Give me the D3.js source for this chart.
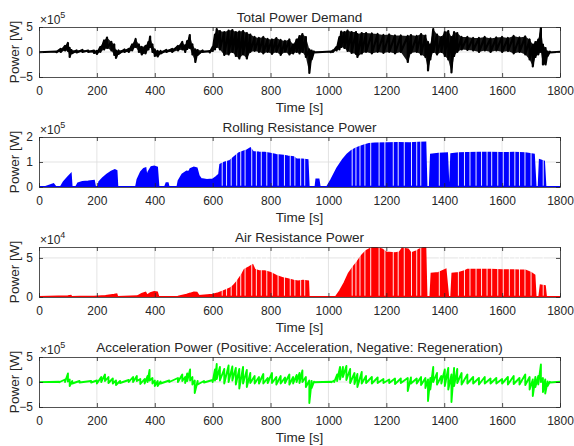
<!DOCTYPE html>
<html>
<head>
<meta charset="utf-8">
<script src="https://cdn.jsdelivr.net/npm/d3@7"></script>
<style>
  body { margin: 0; background: #fff; }
  text { font-family: "Liberation Sans", Arial, sans-serif; fill: #262626; }
  .axis path, .axis line { stroke: #262626; stroke-width: 0.8; }
  .grid line { stroke: #dcdcdc; stroke-width: 0.8; }
</style>
</head>
<body>
<svg id="chart" width="574" height="446"></svg>
<script>
// x axis, seconds
var timeTicks = [0, 200, 400, 600, 800, 1000, 1200, 1400, 1600, 1800];

// total power demand, envelope [t, high, low] in 1e5 W
var totalPower = [
  [0, 0.05, -0.05], [60, 0.1, -0.05], [75, 0.6, 0], [90, 1.2, 0.3], [100, 1.8, 0.2],
  [106, 0.8, -1.0], [112, 0.4, -0.3], [130, 0.3, -0.1], [150, 0.4, 0], [170, 0.3, 0],
  [190, 0.3, -0.2], [200, 0.2, -0.4], [212, 1.0, 0], [225, 2.3, 0.5], [235, 2.9, 0.8],
  [250, 2.0, 0.3], [260, 1.5, -0.6], [266, 0.3, -1.2], [275, 0.3, -0.4], [295, 0.5, 0],
  [310, 0.6, 0], [322, 1.5, 0.3], [334, 2.6, 1.0], [345, 1.5, 0], [355, 1.0, -0.5],
  [368, 1.2, -0.3], [378, 2.0, 0.5], [384, 3.1, 1.0], [392, 1.5, 0], [400, 0.5, -0.8],
  [410, 0.2, -0.9], [420, 0.2, -0.3], [440, 0.4, 0], [460, 0.6, 0], [480, 1.2, 0.3],
  [495, 2.0, 0.5], [505, 1.3, 0], [512, 2.2, 0.6], [521, 3.4, 0.8], [530, 1.5, -0.5],
  [540, 0.5, -2.0], [548, 0.4, -0.6], [565, 0.3, 0], [590, 0.2, -0.1], [600, 1.0, 0.2],
  [608, 3.5, 0.5], [614, 4.6, 1.0], [625, 4.2, 0.5], [640, 4.0, -0.6], [655, 4.3, -0.5],
  [668, 4.4, 0], [680, 4.0, -0.8], [692, 4.1, -1.3], [705, 4.2, -0.5], [718, 3.8, -1.3],
  [730, 3.5, 0], [745, 3.0, 0.2], [760, 2.8, 0], [775, 3.0, -0.3], [790, 2.6, 0],
  [805, 2.5, -0.4], [820, 2.8, 0], [835, 2.4, -0.6], [850, 2.2, 0], [865, 2.5, -0.5],
  [878, 1.5, -0.3], [890, 2.5, 0], [900, 3.2, -0.3], [910, 3.6, 0], [922, 3.0, -1.0],
  [934, 0.5, -4.2], [942, 0.3, -1.5], [950, 0.1, -0.1], [1008, 0.1, -0.05], [1015, 0.3, 0],
  [1028, 1.0, 0.3], [1038, 3.0, 0.5], [1044, 4.1, 1.0], [1055, 4.0, 0.8], [1066, 4.3, 0.2],
  [1080, 4.0, -0.2], [1095, 4.0, -0.4], [1100, 3.6, -1.0], [1115, 3.8, -0.3], [1130, 3.8, 0],
  [1150, 3.7, -0.3], [1170, 3.6, 0], [1190, 3.4, -0.2], [1210, 3.5, 0], [1230, 3.3, -0.3],
  [1250, 3.3, 0], [1274, 3.2, -2.0], [1285, 3.4, -0.2], [1305, 3.2, 0], [1320, 3.6, -0.5],
  [1335, 3.3, -1.0], [1344, 2.0, -3.7], [1352, 1.5, -1.5], [1362, 4.6, 0], [1375, 3.5, -0.5],
  [1390, 3.0, 0], [1402, 4.0, -0.8], [1414, 4.2, -1.5], [1425, 3.0, -4.1], [1434, 4.0, -0.8],
  [1445, 3.8, 0], [1460, 3.0, 0.5], [1480, 3.0, 0.4], [1500, 2.8, 0.3], [1520, 2.8, 0],
  [1540, 3.0, 0.3], [1560, 2.7, 0], [1580, 2.9, 0.3], [1600, 3.0, 0], [1620, 2.8, 0.2],
  [1640, 3.2, -0.3], [1660, 2.9, 0], [1680, 3.1, -0.5], [1695, 2.5, -1.5], [1706, 1.5, -2.9],
  [1715, 2.0, -1.0], [1725, 2.5, -0.5], [1734, 4.8, 0], [1741, 1.5, -2.5], [1750, 0.8, -2.5],
  [1757, 0.1, -0.8], [1765, 0.05, -0.1], [1800, 0.05, -0.05]
];

// rolling resistance power, envelope [t, value] in 1e5 W
var rollingPower = [
  [0, 0], [20, 0], [40, 0.08], [50, 0.12], [58, 0], [75, 0], [85, 0.2], [100, 0.4],
  [110, 0.52], [113, 0], [128, 0], [135, 0.15], [150, 0.2], [170, 0.22], [190, 0.25],
  [194, 0], [205, 0], [208, 0.2], [220, 0.35], [235, 0.5], [250, 0.62], [262, 0.68],
  [268, 0.65], [271, 0], [335, 0], [340, 0.3], [352, 0.6], [362, 0.73], [368, 0.75],
  [372, 0.4], [378, 0.6], [388, 0.8], [398, 0.82], [408, 0.78], [413, 0], [435, 0],
  [440, 0.15], [445, 0.15], [448, 0], [478, 0], [482, 0.25], [495, 0.5], [510, 0.62],
  [518, 0.6], [523, 0.72], [535, 0.78], [545, 0.75], [552, 0.45], [560, 0.32], [580, 0.28],
  [600, 0.3], [612, 0.4], [622, 0.5], [626, 0.9], [640, 0.98], [660, 1.05], [675, 1.2],
  [690, 1.35], [705, 1.42], [720, 1.48], [730, 1.55], [740, 1.4], [760, 1.38], [780, 1.37],
  [800, 1.33], [820, 1.28], [845, 1.25], [860, 1.22], [880, 1.2], [890, 1.1], [910, 1.1],
  [928, 1.08], [932, 0], [955, 0], [958, 0.3], [966, 0.3], [970, 0], [995, 0], [1010, 0.3],
  [1030, 0.75], [1050, 1.1], [1065, 1.3], [1080, 1.45], [1095, 1.55], [1110, 1.62],
  [1125, 1.68], [1140, 1.72], [1160, 1.74], [1200, 1.75], [1240, 1.76], [1280, 1.75],
  [1310, 1.77], [1335, 1.78], [1339, 0], [1350, 0], [1354, 1.3], [1380, 1.33], [1410, 1.35],
  [1415, 0], [1420, 0], [1424, 1.32], [1450, 1.35], [1480, 1.36], [1520, 1.37], [1560, 1.37],
  [1600, 1.36], [1640, 1.37], [1680, 1.35], [1710, 1.3], [1716, 0], [1726, 0], [1730, 1.08],
  [1745, 1.02], [1750, 0], [1800, 0]
];

// air resistance power, envelope [t, value] in 1e4 W
var airPower = [
  [0, 0], [100, 0.1], [110, 0.15], [113, 0], [140, 0.05], [190, 0.05], [230, 0.15],
  [260, 0.3], [268, 0.35], [271, 0], [340, 0.1], [355, 0.4], [368, 0.55], [373, 0.2],
  [385, 0.5], [398, 0.65], [408, 0.6], [413, 0], [480, 0.05], [510, 0.3], [523, 0.45],
  [535, 0.6], [545, 0.55], [552, 0.15], [600, 0.3], [620, 0.5], [640, 0.8], [660, 1.1],
  [671, 1.4], [685, 2.0], [700, 2.8], [710, 3.5], [725, 3.8], [738, 4.1], [745, 3.5],
  [760, 3.3], [780, 3.3], [800, 3.1], [820, 2.7], [845, 2.4], [860, 2.3], [880, 2.1],
  [895, 2.0], [912, 2.1], [930, 2.0], [932, 0], [1025, 0], [1040, 0.8], [1055, 1.8],
  [1070, 3.0], [1085, 3.8], [1100, 4.5], [1115, 5.3], [1130, 5.9], [1150, 6.3], [1165, 6.3],
  [1185, 6.1], [1200, 5.7], [1230, 5.6], [1245, 5.7], [1255, 6.2], [1275, 6.1], [1285, 5.6],
  [1300, 5.8], [1315, 6.1], [1335, 6.4], [1339, 0], [1352, 0], [1356, 3.0], [1380, 3.1],
  [1405, 3.5], [1414, 0], [1424, 0], [1428, 3.0], [1450, 3.1], [1470, 3.3], [1480, 3.5],
  [1520, 3.5], [1560, 3.5], [1600, 3.45], [1640, 3.45], [1660, 3.4], [1680, 3.4],
  [1700, 3.1], [1712, 2.8], [1716, 0], [1728, 0], [1733, 1.5], [1748, 1.4], [1752, 0], [1800, 0]
];

// acceleration power, envelope [t, high, low] in 1e5 W
var accelPower = [
  [0, 0.03, -0.03], [70, 0.05, -0.05], [90, 0.5, 0], [100, 1.7, 0.1], [106, 0.5, -0.8],
  [115, 0.2, -0.3], [140, 0.2, -0.1], [180, 0.2, -0.1], [200, 0.3, -0.3], [215, 1.0, 0],
  [228, 1.5, 0.2], [240, 1.0, -0.2], [255, 0.7, -0.3], [266, 0.3, -0.6], [280, 0.2, -0.2],
  [310, 0.4, 0], [325, 1.0, 0], [338, 1.2, 0.2], [350, 0.6, -0.4], [365, 0.6, -0.3],
  [375, 1.2, 0], [382, 2.4, 0.3], [392, 0.8, -0.3], [400, 0.3, -0.8], [410, 0.2, -0.8],
  [420, 0.1, -0.3], [450, 0.3, 0], [480, 0.8, 0], [495, 1.5, 0.2], [505, 1.0, -0.2],
  [512, 1.7, 0.2], [522, 2.5, 0.3], [530, 1.0, -0.5], [538, 0.3, -2.2], [548, 0.2, -0.5],
  [570, 0.2, -0.1], [600, 0.4, 0], [608, 2.5, 0.3], [614, 3.6, 0.6], [625, 3.0, 0.3],
  [640, 2.6, -0.3], [655, 3.3, 0], [668, 3.1, 0.3], [680, 2.8, -0.5], [692, 2.6, -1.3],
  [705, 3.0, -0.3], [718, 2.4, -1.0], [730, 1.8, -0.2], [745, 1.2, -0.3], [760, 1.0, -0.3],
  [775, 1.6, -0.3], [790, 0.8, -0.2], [805, 1.8, -0.2], [820, 1.0, -0.5], [835, 1.2, -0.3],
  [850, 0.9, -0.2], [865, 1.5, -0.5], [878, 1.0, -0.3], [890, 1.4, 0], [900, 1.8, -0.2],
  [910, 2.3, 0], [922, 1.0, -1.0], [934, 0.3, -4.2], [942, 0.2, -1.2], [950, 0.05, -0.05],
  [1010, 0.05, -0.05], [1020, 0.3, 0], [1030, 1.5, 0.2], [1040, 3.0, 0.5], [1050, 3.0, 1.0],
  [1062, 3.2, 0.4], [1075, 2.6, -0.2], [1090, 1.8, -0.4], [1100, 1.6, -1.0], [1115, 2.0, -0.3],
  [1130, 1.2, -0.2], [1150, 1.0, -0.3], [1170, 0.9, -0.2], [1190, 0.6, -0.2], [1210, 0.5, -0.2],
  [1230, 0.7, -0.4], [1250, 0.7, -0.2], [1274, 0.8, -1.8], [1285, 0.9, -0.3], [1305, 0.7, -0.3],
  [1320, 1.0, -0.6], [1335, 0.8, -1.2], [1344, 0.5, -3.8], [1352, 0.8, -1.5], [1362, 3.0, 0],
  [1375, 1.8, -0.5], [1390, 1.2, -0.3], [1402, 2.5, -0.8], [1414, 2.8, -1.5], [1425, 1.5, -4.0],
  [1434, 2.8, -0.8], [1445, 2.6, -0.2], [1460, 1.8, -0.5], [1480, 1.5, -0.3], [1500, 1.0, -0.3],
  [1520, 0.8, -0.5], [1540, 1.0, -0.3], [1560, 0.7, -0.3], [1580, 0.8, -0.3], [1600, 0.6, -0.3],
  [1620, 1.0, -0.5], [1640, 1.2, -0.4], [1660, 0.8, -0.5], [1680, 1.5, -0.6], [1695, 1.0, -1.5],
  [1706, 0.5, -2.8], [1715, 1.0, -1.0], [1725, 1.2, -0.5], [1734, 3.5, 0], [1741, 0.8, -2.0],
  [1749, 0.5, -2.3], [1757, 0.1, -0.8], [1765, 0.05, -0.1], [1800, 0.05, -0.05]
];

// short stops inside the dense driving blocks (white gaps), seconds
var gapTimes = [
  633, 648, 664, 683, 697, 712, 735, 751, 768, 787, 806, 826, 848, 868, 884, 904, 918,
  1082, 1095, 1109, 1126, 1146, 1175, 1195, 1224, 1241, 1262, 1287, 1305, 1319, 1383,
  1449, 1470, 1489, 1510, 1529, 1548, 1564, 1585, 1604, 1625, 1644, 1660, 1679, 1700, 1742
];

var panels = [
  { title: 'Total Power Demand', data: totalPower, band: true, color: '#000000',
    width: 2.2, fillBand: true, domain: [-5, 5], ticks: [-5, 0, 5], exp: 5, top: 27 },
  { title: 'Rolling Resistance Power', data: rollingPower, band: false, color: '#0000ff',
    domain: [0, 2], ticks: [0, 1, 2], exp: 5, top: 137 },
  { title: 'Air Resistance Power', data: airPower, band: false, color: '#ff0000',
    domain: [0, 6.4], ticks: [0, 5], exp: 4, top: 247 },
  { title: 'Acceleration Power (Positive: Acceleration, Negative: Regeneration)', data: accelPower,
    band: true, color: '#00ff00', width: 1.9, fillBand: false, domain: [-5, 5], ticks: [-5, 0, 5], exp: 5, top: 357 }
];

var svg = d3.select('#chart');
var plotH = 50;
var x = d3.scaleLinear().domain([0, 1800]).range([39, 560]);
var fmt = d3.format('d');

panels.forEach(function(p, i) {
  var g = svg.append('g').attr('transform', 'translate(0,' + p.top + ')');
  var y = d3.scaleLinear().domain(p.domain).range([plotH, 0]);

  g.append('clipPath').attr('id', 'clip' + i)
    .append('rect').attr('x', x(0)).attr('y', 0).attr('width', x(1800) - x(0)).attr('height', plotH);

  //grid
  var grid = g.append('g').attr('class', 'grid');
  grid.selectAll('.gx').data(timeTicks.slice(1, -1)).enter().append('line')
    .attr('x1', d => x(d)).attr('x2', d => x(d)).attr('y1', 0).attr('y2', plotH);
  grid.selectAll('.gy').data(p.ticks.filter(t => t > p.domain[0] && t < p.domain[1])).enter().append('line')
    .attr('x1', x(0)).attr('x2', x(1800)).attr('y1', d => y(d)).attr('y2', d => y(d));

  var data = g.append('g').attr('clip-path', 'url(#clip' + i + ')');

  if (p.band) {
    // dense trace: go up and down through the min/max envelope
    var zig = [];
    p.data.forEach(function(d) { zig.push([d[0], d[1]]); zig.push([d[0], d[2]]); });
    if (p.fillBand) {
      var band = d3.area().x(d => x(d[0])).y0(d => y(d[2])).y1(d => y(d[1]));
      data.append('path').datum(p.data).attr('d', band)
        .attr('fill', p.color).attr('fill-opacity', 0.9);
    }
    data.append('path').datum(zig)
      .attr('d', d3.line().x(d => x(d[0])).y(d => y(d[1])))
      .attr('fill', 'none')
      .attr('stroke', p.color)
      .attr('stroke-width', p.width)
      .attr('stroke-linejoin', 'round');
  } else {
    var fill = d3.area().x(d => x(d[0])).y0(y(0)).y1(d => y(d[1]));
    var edge = d3.line().x(d => x(d[0])).y(d => y(d[1]));
    data.append('path').datum(p.data).attr('d', fill).attr('fill', p.color);
    data.append('path').datum(p.data).attr('d', edge)
      .attr('fill', 'none').attr('stroke', p.color).attr('stroke-width', 1.8);
    data.selectAll('.gap').data(gapTimes).enter().append('line')
      .attr('x1', d => x(d)).attr('x2', d => x(d))
      .attr('y1', 0).attr('y2', y(0) - 1.3)
      .attr('stroke', '#fff').attr('stroke-width', 0.9);
  }

  //axes, ticks pointing inward
  g.append('g').attr('class', 'axis')
    .attr('transform', 'translate(0,' + plotH + ')')
    .call(d3.axisBottom(x).tickValues(timeTicks).tickFormat(fmt).tickSize(-4).tickSizeOuter(0).tickPadding(9))
    .call(a => a.selectAll('text').attr('font-size', 12).attr('fill', '#262626'));
  g.append('g').attr('class', 'axis')
    .call(d3.axisTop(x).tickValues(timeTicks).tickSize(-4).tickSizeOuter(0).tickFormat(''));
  g.append('g').attr('class', 'axis')
    .attr('transform', 'translate(' + x(0) + ',0)')
    .call(d3.axisLeft(y).tickValues(p.ticks).tickFormat(fmt).tickSize(-4).tickSizeOuter(0).tickPadding(6))
    .call(a => a.selectAll('text').attr('font-size', 12).attr('fill', '#262626'));
  g.append('g').attr('class', 'axis')
    .attr('transform', 'translate(' + x(1800) + ',0)')
    .call(d3.axisRight(y).tickValues(p.ticks).tickSize(-4).tickSizeOuter(0).tickFormat(''));
  g.selectAll('.domain').attr('fill', 'none');

  //texts
  g.append('text')
    .attr('x', (x(0) + x(1800)) / 2).attr('y', -5)
    .attr('text-anchor', 'middle').attr('font-size', 13.5)
    .text(p.title);

  g.append('text')
    .attr('x', (x(0) + x(1800)) / 2).attr('y', plotH + 35)
    .attr('text-anchor', 'middle').attr('font-size', 13.5)
    .text('Time [s]');

  g.append('text')
    .attr('transform', 'translate(19,' + plotH / 2 + ') rotate(-90)')
    .attr('text-anchor', 'middle').attr('font-size', 13.5)
    .text('Power [W]');

  var ex = g.append('text').attr('x', x(0) + 1).attr('y', -3).attr('font-size', 12);
  ex.append('tspan').text('\u00d710');
  ex.append('tspan').attr('dy', -6).attr('font-size', 9).text(p.exp);
});
</script>
</body>
</html>
